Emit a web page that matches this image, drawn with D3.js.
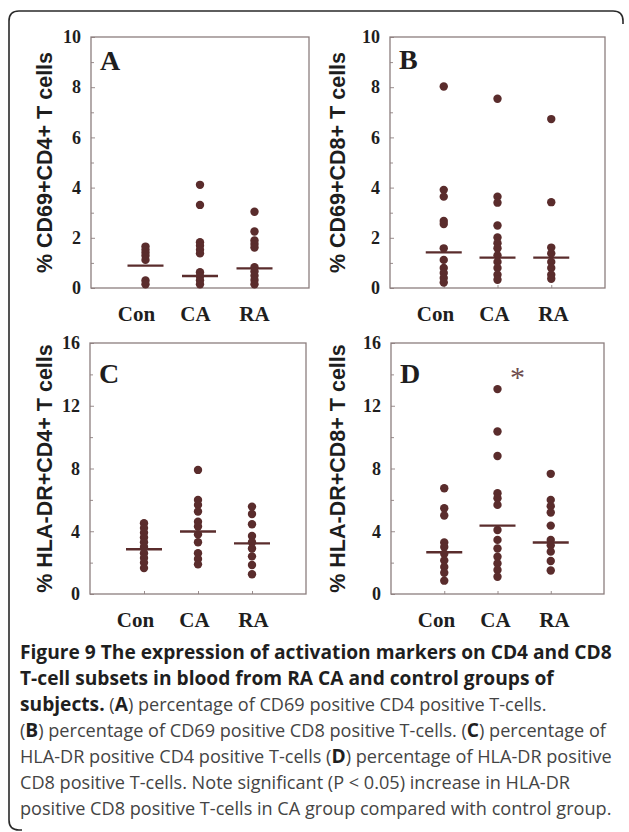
<!DOCTYPE html>
<html>
<head>
<meta charset="utf-8">
<script src="https://cdn.jsdelivr.net/npm/d3@7"></script>
<style>
  body { margin: 0; background: #fff; }
  svg { display: block; }
  .tick text { font-family: "Liberation Serif", "Times New Roman", serif; font-weight: bold; fill: #1e1e1e; }
</style>
</head>
<body>
<script>
// values (percent of cells)
var groups = ["Con", "CA", "RA"];

var cd69cd4Con = [1.65, 1.52, 1.4, 1.28, 1.12, 0.3, 0.15];
var cd69cd4CA  = [4.11, 3.31, 1.82, 1.68, 1.52, 1.38, 0.63, 0.47, 0.31, 0.15];
var cd69cd4RA  = [3.04, 2.25, 1.89, 1.75, 1.61, 0.83, 0.66, 0.49, 0.32, 0.15];
var cd69cd4Med = [0.89, 0.48, 0.78];

var cd69cd8Con = [8.03, 3.91, 3.64, 2.67, 2.55, 1.58, 1.12, 0.8, 0.6, 0.4, 0.22];
var cd69cd8CA  = [7.54, 3.64, 3.4, 2.49, 2.01, 1.78, 1.58, 1.3, 1.04, 0.8, 0.53, 0.33];
var cd69cd8RA  = [6.73, 3.42, 1.61, 1.38, 1.04, 0.8, 0.53, 0.37];
var cd69cd8Med = [1.42, 1.21, 1.21];

var hlaCd4Con = [4.51, 4.2, 3.9, 3.6, 3.3, 3.0, 2.6, 2.3, 2.0, 1.65];
var hlaCd4CA  = [7.91, 6.0, 5.68, 5.26, 4.61, 4.3, 3.8, 3.3, 2.6, 2.23, 1.89];
var hlaCd4RA  = [5.57, 5.1, 4.45, 3.7, 3.3, 2.9, 2.4, 1.85, 1.26];
var hlaCd4Med = [2.85, 3.98, 3.23];

var hlaCd8Con = [6.74, 5.47, 5.0, 3.28, 3.0, 2.57, 2.14, 1.72, 1.35, 0.85];
var hlaCd8CA  = [13.06, 10.36, 8.8, 6.42, 6.1, 5.68, 4.08, 3.45, 2.9, 2.38, 1.95, 1.53, 1.1];
var hlaCd8RA  = [7.66, 6.0, 5.6, 5.2, 4.36, 3.45, 3.1, 2.7, 2.1, 1.5];
var hlaCd8Med = [2.66, 4.36, 3.28];

var width = 629, height = 832;
var ink = "#5a2c2c";

var svg = d3.select("body").append("svg")
    .attr("width", width)
    .attr("height", height);

// bracket-like frame (top + left edge, rounded corners)
svg.append("path")
    .attr("d", "M 623 24 L 623 21 Q 623 11 613 11 L 19 11 Q 9 11 9 21 L 9 820 Q 9 830 19 830 L 22 830")
    .attr("fill", "none")
    .attr("stroke", "#2a2a2a")
    .attr("stroke-width", 1.6);

var panels = [
  {letter: "A", x: 91, y: 37, w: 218, h: 251, max: 10, step: 2, label: "% CD69+CD4+ T cells",
   series: [cd69cd4Con, cd69cd4CA, cd69cd4RA], med: cd69cd4Med, labelX: -39, letterDy: 33},
  {letter: "B", x: 390, y: 37, w: 215, h: 251, max: 10, step: 2, label: "% CD69+CD8+ T cells",
   series: [cd69cd8Con, cd69cd8CA, cd69cd8RA], med: cd69cd8Med, labelX: -45, letterDy: 32},
  {letter: "C", x: 90, y: 343, w: 216, h: 251, max: 16, step: 4, label: "% HLA-DR+CD4+ T cells",
   series: [hlaCd4Con, hlaCd4CA, hlaCd4RA], med: hlaCd4Med, labelX: -38, letterDy: 40},
  {letter: "D", x: 391, y: 343, w: 213, h: 251, max: 16, step: 4, label: "% HLA-DR+CD8+ T cells",
   series: [hlaCd8Con, hlaCd8CA, hlaCd8RA], med: hlaCd8Med, labelX: -46, letterDy: 40}
];

panels.forEach(function(p) {
  var g = svg.append("g").attr("transform", `translate(${p.x},${p.y})`);

  var x = d3.scaleLinear().domain([0, 4]).range([0, p.w]);
  var y = d3.scaleLinear().domain([0, p.max]).range([p.h, 0]);
  // group names sit a bit left of the dot columns in the original
  var xl = d3.scalePoint().domain(groups).range([45, 163]);

  // minor ticks
  g.append("g")
      .call(d3.axisLeft(y)
        .tickValues(d3.range(p.step / 2, p.max, p.step))
        .tickSizeInner(-3).tickSizeOuter(0).tickFormat(""))
      .call(a => a.select(".domain").remove())
      .selectAll("line").attr("stroke", "#9a8e8e");

  // major ticks + labels
  g.append("g")
      .call(d3.axisLeft(y)
        .tickValues(d3.range(0, p.max + 1, p.step))
        .tickSizeInner(-4).tickSizeOuter(0).tickPadding(10))
      .call(a => a.select(".domain").remove())
      .call(a => a.selectAll("line").attr("stroke", "#9a8e8e"))
      .selectAll("text").attr("font-size", 18);

  // category ticks on the bottom edge
  g.append("g")
      .attr("transform", `translate(0,${p.h})`)
      .call(d3.axisBottom(x).tickValues([1, 2, 3]).tickSizeInner(-3).tickSizeOuter(0).tickFormat(""))
      .call(a => a.select(".domain").remove())
      .selectAll("line").attr("stroke", "#9a8e8e");

  // group labels
  g.append("g")
      .attr("transform", `translate(0,${p.h})`)
      .call(d3.axisBottom(xl).tickSize(0).tickPadding(18))
      .call(a => a.select(".domain").remove())
      .selectAll("text").attr("font-size", 21);

  // plot box
  g.append("rect")
      .attr("width", p.w)
      .attr("height", p.h)
      .attr("fill", "none")
      .attr("stroke", "#8c7e7e")
      .attr("stroke-width", 1.3);

  // panel letter
  g.append("text")
      .attr("x", 9)
      .attr("y", p.letterDy)
      .attr("font-family", "'Liberation Serif', 'Times New Roman', serif")
      .attr("font-weight", "bold")
      .attr("font-size", 28)
      .attr("fill", "#1e1e1e")
      .text(p.letter);

  // y axis title
  g.append("text")
      .attr("transform", `translate(${p.labelX},${p.h / 2}) rotate(-90)`)
      .attr("text-anchor", "middle")
      .attr("font-family", "'Liberation Sans', Arial, sans-serif")
      .attr("font-weight", "bold")
      .attr("font-size", 21.5)
      .attr("fill", "#1e1e1e")
      .text(p.label);

  var pts = [];
  p.series.forEach(function(vals, i) {
    vals.forEach(v => pts.push({i: i + 1, v: v}));
  });

  g.selectAll("circle")
    .data(pts)
    .enter().append("circle")
      .attr("cx", d => x(d.i))
      .attr("cy", d => y(d.v))
      .attr("r", 4.2)
      .attr("fill", ink);

  g.selectAll(".median")
    .data(p.med)
    .enter().append("line")
      .attr("class", "median")
      .attr("x1", (d, i) => x(i + 1) - 18)
      .attr("x2", (d, i) => x(i + 1) + 18)
      .attr("y1", d => y(d))
      .attr("y2", d => y(d))
      .attr("stroke", ink)
      .attr("stroke-width", 2.4);

  if (p.letter == "D") {
    // significance mark above the CA column
    g.append("text")
      .attr("x", x(2) + 20)
      .attr("y", y(13.2))
      .attr("text-anchor", "middle")
      .attr("font-family", "'Liberation Serif', serif")
      .attr("font-size", 30)
      .attr("fill", "#6e4d4d")
      .text("*");
  }
});

// caption
var captionLines = [
  [["Figure 9 The expression of activation markers on CD4 and CD8", 1]],
  [["T-cell subsets in blood from RA CA and control groups of", 1]],
  [["subjects.", 1], [" (", 0], ["A", 1], [") percentage of CD69 positive CD4 positive T-cells.", 0]],
  [["(", 0], ["B", 1], [") percentage of CD69 positive CD8 positive T-cells. (", 0], ["C", 1], [") percentage of", 0]],
  [["HLA-DR positive CD4 positive T-cells (", 0], ["D", 1], [") percentage of HLA-DR positive", 0]],
  [["CD8 positive T-cells. Note significant (P < 0.05) increase in HLA-DR", 0]],
  [["positive CD8 positive T-cells in CA group compared with control group.", 0]]
];

var cap = svg.append("g")
    .attr("font-family", "'Open Sans', 'Noto Sans', sans-serif")
    .style("white-space", "pre");

var lines = cap.selectAll("text")
  .data(captionLines)
  .enter().append("text")
    .attr("x", 20)
    .attr("y", (d, i) => 659 + i * 26);

lines.selectAll("tspan")
  .data(d => d)
  .enter().append("tspan")
    .attr("class", d => d[1] ? "b" : "r")
    .attr("font-weight", d => d[1] ? "bold" : "normal")
    .attr("fill", d => d[1] ? "#1f1f1f" : "#444")
    .attr("font-size", d => d[1] ? 18 : 17)
    .text(d => d[0]);

// fit the bold and regular sizes to the measured line widths
var nodes = lines.nodes();
var bw = nodes[0].getComputedTextLength();
cap.selectAll("tspan.b").attr("font-size", 18 * 592 / bw);
var rw = nodes[6].getComputedTextLength();
cap.selectAll("tspan.r").attr("font-size", 17 * 592 / rw);
</script>
</body>
</html>
